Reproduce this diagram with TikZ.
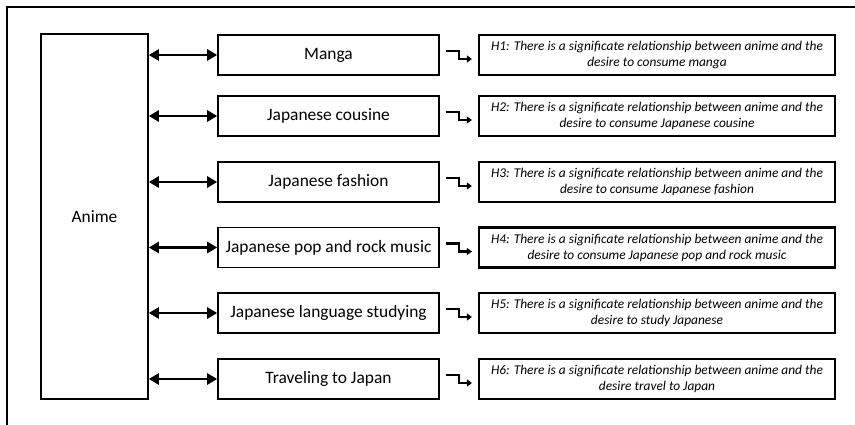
\documentclass[tikz,border=0pt]{standalone}
\usepackage{fontspec}
\setmainfont{Carlito}
\usetikzlibrary{arrows.meta}
\begin{document}
\begin{tikzpicture}[x=1pt,y=-1pt,
  box/.style={draw,line width=1.6pt,minimum width=221pt,minimum height=40pt,inner sep=0pt,font=\fontsize{17.4}{20}\selectfont},
  hyp/.style={draw,line width=2.2pt,minimum width=356pt,minimum height=40pt,inner sep=0pt,align=center,font=\fontsize{13.4}{16}\selectfont\itshape},
  dbl/.style={line width=2.6pt,{Triangle[length=10pt,width=11pt]}-{Triangle[length=10pt,width=11pt]}},
  stp/.style={line width=2.4pt,-{Triangle[length=5pt,width=7pt]}}]
\useasboundingbox (0,0) rectangle (855,425);
\draw[line width=1.5pt] (7,425) -- (7,7) -- (855,7);
\node[draw,line width=1.6pt,minimum width=107pt,minimum height=365pt,inner sep=0pt,font=\fontsize{17.4}{20}\selectfont] (anime) at (94.5,216.5) {Anime};
\foreach \i/\y/\t/\h in {
 1/55/Manga/{H1: There is a significate relationship between anime and the\\desire to consume manga},
 2/116/Japanese cousine/{H2: There is a significate relationship between anime and the\\desire to consume Japanese cousine},
 3/182/Japanese fashion/{H3: There is a significate relationship between anime and the\\desire to consume Japanese fashion},
 4/247.5/Japanese pop and rock music/{H4: There is a significate relationship between anime and the\\desire to consume Japanese pop and rock music},
 5/313/Japanese language studying/{H5: There is a significate relationship between anime and the\\desire to study Japanese},
 6/379/Traveling to Japan/{H6: There is a significate relationship between anime and the\\desire travel to Japan}}{
  \node[box] (b\i) at (328.5,\y) {\t};
  \node[hyp] (h\i) at (657,\y) {\h};
  \coordinate (a\i) at (anime.east |- b\i.west);
  \draw[dbl] (a\i) -- (b\i.west);
  \coordinate (s\i) at ([xshift=6pt,yshift=4pt]b\i.east);
  \coordinate (t\i) at ([xshift=-6pt,yshift=-4pt]h\i.west);
  \draw[stp] (s\i) -- ++(13,0) |- (t\i);
}
\end{tikzpicture}
\end{document}
